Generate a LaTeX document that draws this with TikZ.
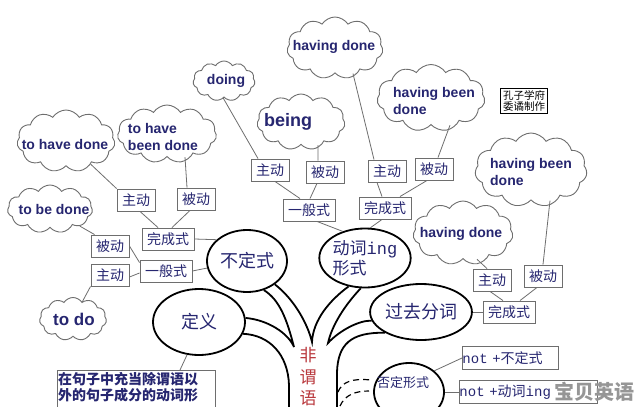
\documentclass[tikz,border=0pt]{standalone}
\usepackage{fontspec}
\setmainfont{Liberation Sans}
\newfontfamily\cjk{Noto Sans CJK SC}
\newfontfamily\mono{Liberation Mono}
\usetikzlibrary{shapes.symbols,shapes.geometric}
\definecolor{navy}{RGB}{38,38,112}
\definecolor{linegray}{RGB}{110,110,110}
\definecolor{redc}{RGB}{185,55,60}
\definecolor{wmgray}{RGB}{150,150,150}
\tikzset{
  cl/.style={cloud, cloud puffs=11, cloud puff arc=115, cloud ignores aspect, draw=linegray, line width=0.9pt, inner sep=0pt},
  ct/.style={font=\bfseries\fontsize{14}{16.5}\selectfont, text=navy, align=left, inner sep=0pt},
  bx/.style={draw=linegray, line width=0.9pt, inner xsep=5pt, inner ysep=0pt, minimum height=22pt, font=\cjk\fontsize{14}{16}\selectfont, text=navy},
  el/.style={ellipse, draw=black, line width=1.8pt, inner sep=0pt, font=\cjk\fontsize{18}{21}\selectfont, text=navy},
  cn/.style={draw=linegray, line width=0.8pt},
  tr/.style={draw=black, line width=1.8pt},
  dsh/.style={draw=black, line width=1.2pt, dash pattern=on 6pt off 4pt},
}
\begin{document}
\begin{tikzpicture}[x=1pt,y=-1pt]
\fill[white] (0,0) rectangle (640,407);
\useasboundingbox (0,0) rectangle (640,407);

% clouds
\node[cl, minimum width=96pt, minimum height=62pt] (hd1) at (335,48) {};
\node[ct] (hd1t) at (334,47) {having done};
\node[cl, minimum width=62pt, minimum height=40pt] (dg) at (224,81) {};
\node[ct] (dgt) at (226,81) {doing};
\node[cl, minimum width=88pt, minimum height=56pt] (bg) at (301,122) {};
\node[ct, font=\bfseries\fontsize{18}{20}\selectfont] (bgt) at (288,122) {being};
\node[cl, minimum width=108pt, minimum height=67pt] (hbd1) at (431,98) {};
\node[ct] (hbd1t) at (434,101) {having been\\done};
\node[cl, minimum width=98pt, minimum height=62pt] (thd) at (66,141) {};
\node[ct] (thdt) at (65,144) {to have done};
\node[cl, minimum width=99pt, minimum height=58pt] (thbd) at (167,134) {};
\node[ct] (thbdt) at (163,137) {to have\\been done};
\node[cl, minimum width=85pt, minimum height=48pt] (tbd) at (50,209) {};
\node[ct] (tbdt) at (54,209) {to be done};
\node[cl, minimum width=67pt, minimum height=43pt] (tdo) at (73,319) {};
\node[ct, font=\bfseries\fontsize{17}{19}\selectfont] (tdot) at (74,319) {to do};
\node[cl, minimum width=112pt, minimum height=74pt] (hbd2) at (531,170) {};
\node[ct] (hbd2t) at (531,172) {having been\\done};
\node[cl, minimum width=100pt, minimum height=64pt] (hd2) at (463,233) {};
\node[ct] (hd2t) at (461,234) {having done};

% boxes
\node[bx] (zd1) at (136,200) {主动};
\node[bx] (bd1) at (196,199) {被动};
\node[bx] (wc1) at (168,239) {完成式};
\node[bx] (bd2) at (110,246) {被动};
\node[bx] (yb1) at (166,271) {一般式};
\node[bx] (zd2) at (110,275) {主动};
\node[bx] (zd3) at (270,170) {主动};
\node[bx] (bd3) at (325,172) {被动};
\node[bx] (yb2) at (309,210) {一般式};
\node[bx] (zd4) at (387,171) {主动};
\node[bx] (bd4) at (434,169) {被动};
\node[bx] (wc2) at (385,208) {完成式};
\node[bx] (zd5) at (492,280) {主动};
\node[bx] (bd5) at (543,276) {被动};
\node[bx] (wc3) at (509,312) {完成式};
\node[draw=black, line width=0.8pt, font=\cjk\fontsize{10.5}{11.5}\selectfont, align=center, inner xsep=2.5pt, inner ysep=2pt] (kz) at (524,101) {孔子学府\\委谲制作};

% ellipses
\node[el, minimum width=80pt, minimum height=62pt] (bds) at (247,261) {不定式};
\node[el, minimum width=86pt, minimum height=59pt, align=left, font=\cjk\fontsize{17}{20}\selectfont] (dc) at (365,258) {动词{\mono ing}\\形式};
\node[el, minimum width=92pt, minimum height=66pt] (dy) at (199,322) {定义};
\node[el, minimum width=92pt, minimum height=56pt] (gq) at (421,312) {过去分词};
\node[el, minimum width=70pt, minimum height=58pt] (fd) at (409,392) {};
\node[font=\cjk\fontsize{13}{14}\selectfont, text=navy, inner sep=0pt] (fdt) at (403,383) {否定形式};

% text boxes
\draw[draw=linegray, line width=0.9pt] (57,370) rectangle (215,420);
\node[anchor=north west, inner sep=0pt, font=\cjk\bfseries\fontsize{14}{16.5}\selectfont, text=navy, align=left] (dyt) at (58,372) {在句子中充当除谓语以\\外的句子成分的动词形};
\node[draw=linegray, line width=0.9pt, anchor=west, minimum height=23pt, inner xsep=0pt, align=left, text width=96pt, font=\cjk\fontsize{14}{16}\selectfont, text=navy] (n1) at (462,358) {{\mono not +}不定式};
\node[draw=linegray, line width=0.9pt, anchor=west, minimum height=23pt, inner xsep=0pt, align=left, text width=138pt, font=\cjk\fontsize{14}{16}\selectfont, text=navy] (n2) at (459,392) {{\mono not +}动词{\mono ing}};
\node[font=\cjk\bfseries\fontsize{20}{22}\selectfont, text=wmgray, inner sep=0pt] (wm) at (594,392) {宝贝英语};
\node[font=\cjk\fontsize{17}{21.5}\selectfont, text=redc, align=center, inner sep=0pt] (fwy) at (308,377) {非\\谓\\语};

% connectors
\draw[cn] (thd) -- (zd1.north west);
\draw[cn] ([xshift=18pt]thbd.south) -- ([xshift=-9pt]bd1.north);
\draw[cn] ([xshift=4pt]zd1.south) -- ([xshift=-10pt]wc1.north);
\draw[cn] ([xshift=-6pt]bd1.south) -- ([xshift=4pt]wc1.north);
\draw[cn] (wc1.east) -- (bds.145);
\draw[cn] (tbd) -- ([xshift=4pt]bd2.north west);
\draw[cn] (bd2.east) -- ([yshift=-3pt]yb1.north west);
\draw[cn] ([yshift=-2pt]zd2.east) -- ([yshift=-2pt]yb1.west);
\draw[cn] (yb1.east) -- (bds.190);
\draw[cn] (zd2.south west) -- (tdo);
\draw[cn] ([xshift=-1pt]dg.south) -- ([xshift=-12pt]zd3.north);
\draw[cn] ([xshift=17pt]bg.south) -- ([xshift=-7pt]bd3.north);
\draw[cn] ([xshift=5pt]zd3.south) -- ([xshift=-9pt]yb2.north);
\draw[cn] ([xshift=-8pt]bd3.south) -- ([xshift=1pt]yb2.north);
\draw[cn] ([xshift=8pt]yb2.south) -- (dc.130);
\draw[cn] ([xshift=18pt]hd1.south) -- ([xshift=-13pt]zd4.north);
\draw[cn] ([xshift=-10pt]zd4.south) -- ([xshift=-3pt]wc2.north);
\draw[cn] ([xshift=-7pt]bd4.south) -- ([xshift=15pt]wc2.north);
\draw[cn] ([xshift=19pt]hbd1.south) -- ([xshift=4pt]bd4.north);
\draw[cn] ([xshift=-3pt]wc2.south) -- (dc.80);
\draw[cn] ([xshift=14pt]hd2.south) -- ([xshift=-5pt]zd5.north);
\draw[cn] ([xshift=19pt]hbd2.south) -- (bd5.north);
\draw[cn] ([xshift=-2pt]zd5.south) -- ([xshift=-6pt]wc3.north);
\draw[cn] ([xshift=-6pt]bd5.south) -- ([xshift=11pt]wc3.north);
\draw[cn] (wc3.west) -- (gq.east);
\draw[cn] (dy.-110) -- ([xshift=122pt,yshift=2pt]dyt.north west);
\draw[cn] (fd.40) -- (n1.west);
\draw[cn] (fd.east) -- (n2.west);

% trunk
\coordinate (t1) at (294,347);
\coordinate (t2) at (312,342);
\coordinate (t3) at (328,343);
\draw[tr] (dy.-15) .. controls (270,335) and (288,355) .. (289,385) -- (289,412);
\draw[tr] (dy.5) .. controls (268,320) and (288,333) .. (t1) .. controls (287,320) and (280,300) .. (bds.-60);
\draw[tr] (bds.-40) .. controls (295,300) and (308,325) .. (t2) .. controls (313,320) and (330,300) .. (dc.-120);
\draw[tr] (dc.-98) .. controls (345,305) and (332,325) .. (t3) .. controls (340,330) and (360,320) .. (gq.190);
\draw[tr] (gq.-150) .. controls (350,332) and (338,345) .. (337,372) -- (337,412);
\draw[dsh] (338,392) .. controls (342,382) and (352,378) .. (371,380);
\draw[dsh] (340,406) .. controls (345,395) and (355,391) .. (369,391);
\end{tikzpicture}
\end{document}
